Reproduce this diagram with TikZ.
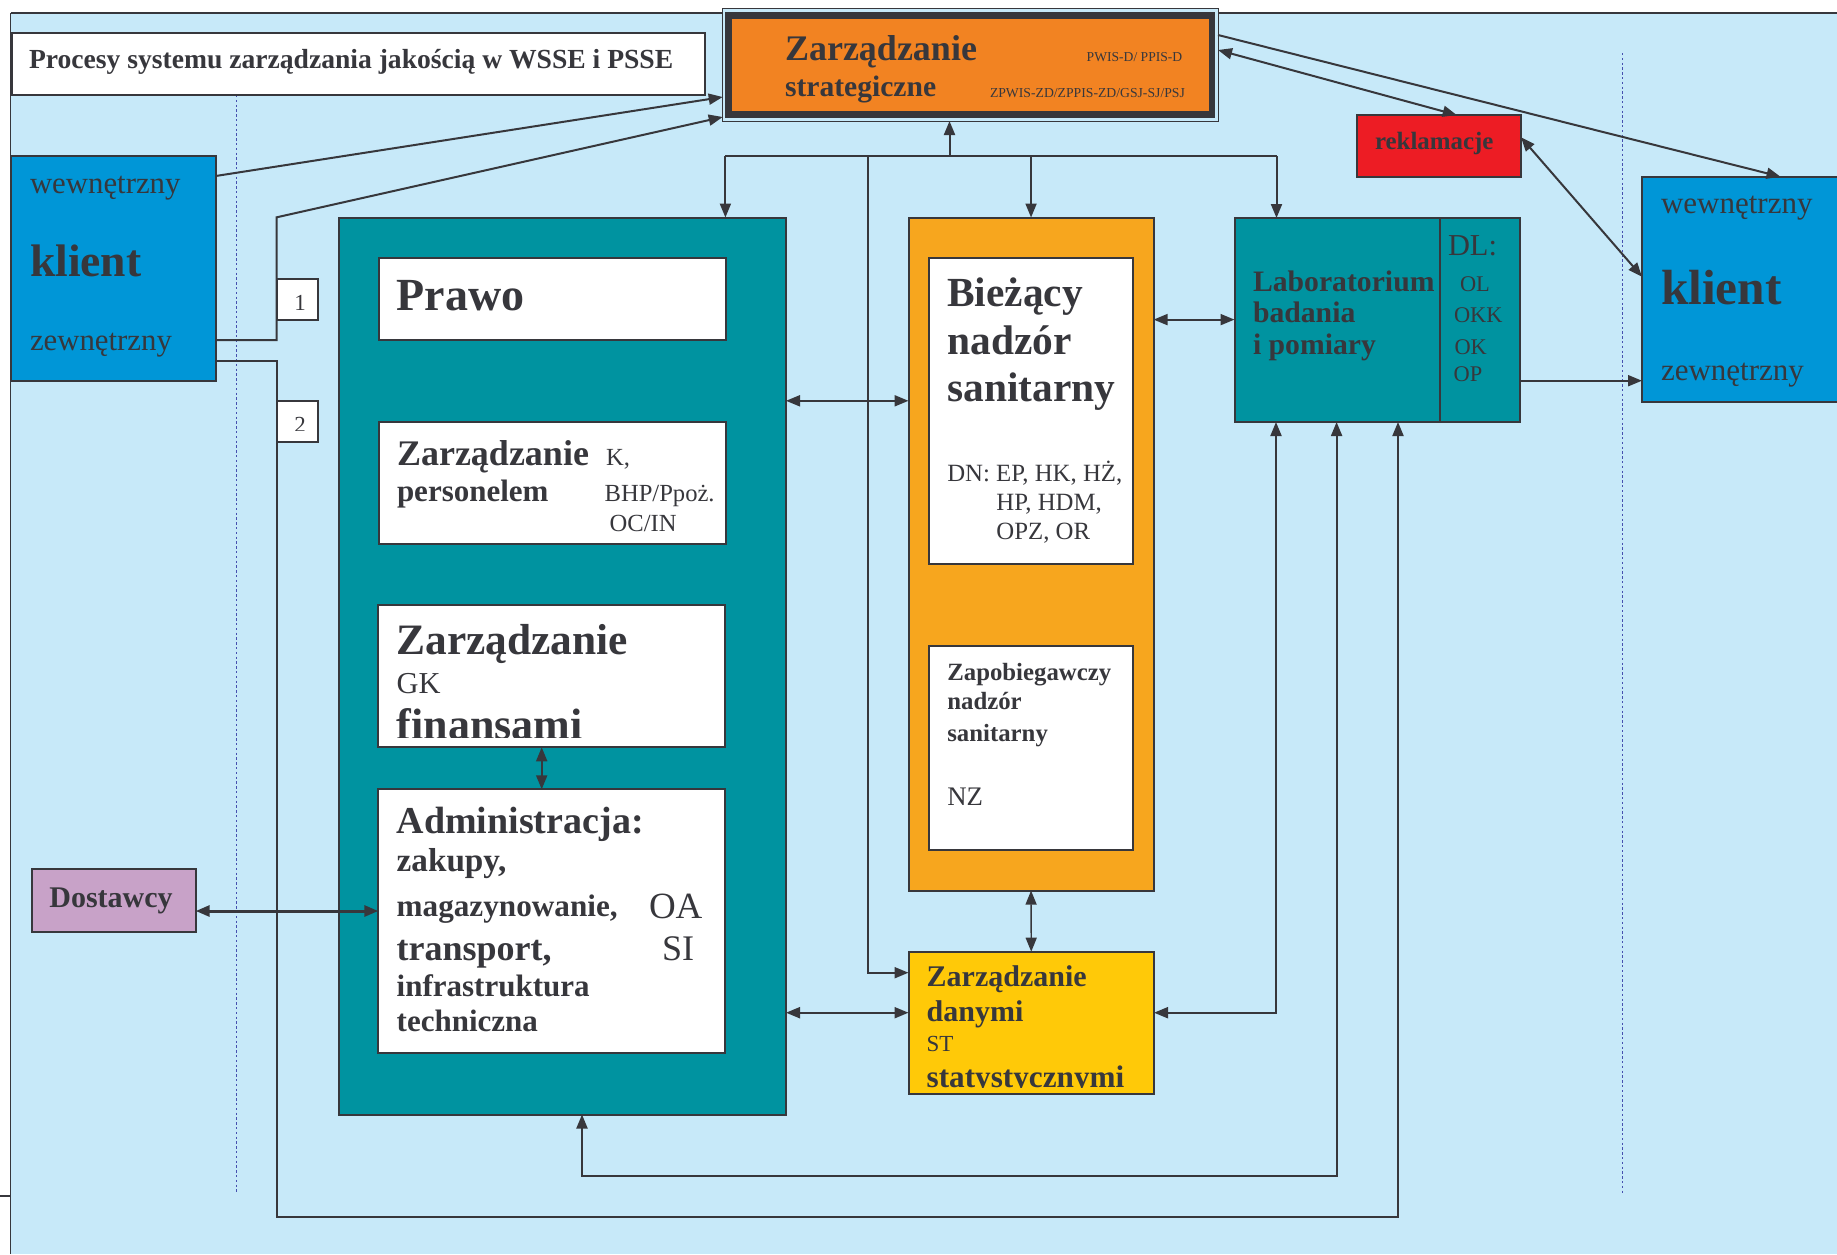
\documentclass[tikz,border=0pt]{standalone}
\usepackage{fontspec}
\setmainfont{Liberation Serif}
\usetikzlibrary{arrows.meta,fit}
\definecolor{bgblue}{RGB}{199,233,249}
\definecolor{dk}{RGB}{55,55,60}
\definecolor{kblue}{RGB}{0,150,215}
\definecolor{tealbox}{RGB}{0,147,160}
\definecolor{sorange}{RGB}{242,131,34}
\definecolor{borange}{RGB}{247,166,30}
\definecolor{dyellow}{RGB}{255,201,8}
\definecolor{rred}{RGB}{237,28,36}
\definecolor{lilac}{RGB}{200,162,200}
\definecolor{dotblue}{RGB}{70,80,175}
\newcommand\fsz[1]{\fontsize{#1}{#1}\selectfont}
\begin{document}
\begin{tikzpicture}[x=0.5pt,y=-0.5pt,
  ln/.style={draw=dk,line width=1pt},
  box/.style={draw=dk,line width=1pt,inner sep=0pt,outer sep=0pt},
  txt/.style={inner sep=0pt,outer sep=0pt,anchor=base west,text=dk},
  arr/.style={ln,-{Triangle[length=7pt,width=5.5pt]}},
  darr/.style={ln,{Triangle[length=7pt,width=5.5pt]}-{Triangle[length=7pt,width=5.5pt]}},
  guide/.style={draw=dotblue,line width=0.5pt,dash pattern=on 1.2pt off 1.2pt}]
\useasboundingbox (0,0) rectangle (1837,1254);

% backdrop
\fill[bgblue] (10.7,12.7) rectangle (1837,1254);
\draw[dk,line width=0.5pt] (10.7,1254) -- (10.7,12.7);
\draw[dk,line width=0.8pt] (10.7,12.7) -- (1837,12.7);
\draw[dk,line width=1pt] (0,1196) -- (10.7,1196);

% dotted guides
\draw[guide] (236.6,95) -- (236.6,1193);
\draw[guide] (1622,53) -- (1622,1195);

% boxes
\node[box,fill=white,fit={(11.7,33.3) (705,95)}] (title) {};
\node[draw=dk,line width=0.5pt,fill=bgblue,inner sep=0pt,outer sep=0pt,fit={(722.7,8.3) (1218,121)}] (stratf) {};
\node[draw=dk,line width=3.4pt,fill=sorange,inner sep=0pt,outer sep=0pt,fit={(728.3,15.3) (1212,114.3)}] (strat) {};
\node[box,fill=rred,fit={(1356.7,115) (1521,177.3)}] (rekl) {};
\node[box,fill=kblue,fit={(10.7,156) (215.7,380.7)}] (lk) {};
\node[box,fill=kblue,fit={(1642,176.7) (1850,401.7)}] (rk) {};
\node[box,fill=tealbox,fit={(338.5,217.5) (786,1114.5)}] (teal) {};
\node[box,fill=white,fit={(379,258) (725.6,340)}] (prawo) {};
\node[box,fill=white,fit={(379,421.7) (725.5,544)}] (pers) {};
\node[box,fill=white,fit={(378.3,605) (725,747.3)}] (fin) {};
\node[box,fill=white,fit={(378.3,789.3) (725,1053)}] (adm) {};
\node[box,fill=lilac,fit={(31.6,869.3) (195.7,931.7)}] (dost) {};
\node[box,fill=borange,fit={(908.5,217.5) (1153.6,890.6)}] (biez) {};
\node[box,fill=white,fit={(929,258) (1133,564.3)}] (biezw) {};
\node[box,fill=white,fit={(929,645.5) (1133,850)}] (zap) {};
\node[box,fill=dyellow,fit={(908.5,951.7) (1154,1094)}] (dane) {};
\node[box,fill=tealbox,fit={(1234.5,218) (1520,422)}] (lab) {};
\draw[ln] (lab.north -| 1439.5,0) -- (lab.south -| 1439.5,0);

% connectors from the client on the left
\draw[arr] (lk.east |- 0,176) -- (stratf.west |- 0,97);
\draw[arr] (lk.east |- 0,340) -- (276.7,340) -- (276.7,217.3) -- (stratf.west |- 0,117);
\draw[arr] (lk.east |- 0,360.7) -- (276.7,360.7) -- (276.7,1216.7) -- (1398,1216.7) -- (lab.south -| 1398,0);

% distribution bar under strategic management
\coordinate (hub) at (949.5,156);
\coordinate (barL) at (725.4,156);
\coordinate (barR) at (1276.5,156);
\coordinate (barD) at (868,156);
\draw[ln] (barL) -- (barR);
\draw[arr] (hub) -- (hub |- stratf.south);
\draw[arr] (barL) -- (teal.north -| barL);
\draw[arr] (biez.north |- barL) -- (biez.north);
\draw[arr] (barR) -- (lab.north -| barR);
\draw[arr] (barD) -- (868,972.7) -- (dane.west |- 0,972.7);

% links between process blocks
\draw[darr] (teal.east |- 0,400.8) -- (biez.west |- 0,400.8);
\draw[darr] (teal.east |- 0,1012.7) -- (dane.west |- 0,1012.7);
\draw[darr] (biez.east |- 0,319.6) -- (lab.west |- 0,319.6);
\draw[darr,line width=0.7pt] (biez.south) -- (dane.north);
\draw[darr] (fin.south -| 541.7,0) -- (adm.north -| 541.7,0);
\draw[darr,line width=1.5pt] (dost.east |- 0,911) -- (adm.west |- 0,911);
\draw[arr] (lab.east |- 0,380.7) -- (rk.west |- 0,380.7);
\draw[darr] (dane.east |- 0,1012.7) -- (1276,1012.7) -- (lab.south -| 1276,0);
\draw[darr] (teal.south -| 582,0) -- (582,1175.7) -- (1336.6,1175.7) -- (lab.south -| 1336.6,0);
\draw[arr] (stratf.east |- 0,35) -- (rk.north -| 1780.5,0);
\draw[darr] (stratf.east |- 0,50) -- (rekl.north -| 1456.7,0);
\draw[darr] (rekl.east |- 0,137.3) -- (rk.west |- 0,276.7);

% numbered tags
\node[box,fill=white,fit={(276.7,279) (318.3,320)}] (b1) {};
\node[box,fill=white,fit={(276.7,401) (318.3,442.3)}] (b2) {};
\node[txt,anchor=base,font=\fsz{11.5}] (tb1) at (300,310.7) {1};
\begin{scope}
  \clip (280,400) rectangle (316,430.5);
  \node[txt,anchor=base,font=\fsz{11.5}] (tb2) at (300,432.7) {2};
\end{scope}

% texts
\node[txt,font=\fsz{13.8}\bfseries] (tTitle) at (29,68) {Procesy systemu zarządzania jakością w WSSE i PSSE};

\node[txt,font=\fsz{18}\bfseries] (tS1) at (785,60) {Zarządzanie};
\node[txt,font=\fsz{14.8}\bfseries] (tS2) at (785,96.7) {strategiczne};
\node[txt,font=\fsz{6.8}] (tS3) at (1086.7,61.7) {PWIS-D/ PPIS-D};
\node[txt,font=\fsz{6.85}] (tS4) at (990,97.7) {ZPWIS-ZD/ZPPIS-ZD/GSJ-SJ/PSJ};

\node[txt,font=\fsz{12.45}\bfseries] (tR) at (1375,149.3) {reklamacje};

\node[txt,font=\fsz{15.4}] (tL1) at (30,193.3) {wewnętrzny};
\node[txt,font=\fsz{22.8}\bfseries] (tL2) at (30,276) {klient};
\node[txt,font=\fsz{15.4}] (tL3) at (30,350.7) {zewnętrzny};

\node[txt,font=\fsz{15.5}] (tK1) at (1661,213.3) {wewnętrzny};
\node[txt,font=\fsz{24.7}\bfseries] (tK2) at (1661,304) {klient};
\node[txt,font=\fsz{15.5}] (tK3) at (1661,380) {zewnętrzny};

\node[txt,font=\fsz{23}\bfseries] (tP) at (396.5,310) {Prawo};

\node[txt,font=\fsz{18}\bfseries] (tZ1) at (397,465) {Zarządzanie};
\node[txt,font=\fsz{15.5}\bfseries] (tZ2) at (397,501.7) {personelem};
\node[txt,font=\fsz{12.3}] (tZ3) at (606,465) {K,};
\node[txt,font=\fsz{12.3}] (tZ4) at (604.6,501.7) {BHP/Ppoż.};
\node[txt,font=\fsz{12.3}] (tZ5) at (609.7,531.7) {OC/IN};

\node[txt,font=\fsz{21.7}\bfseries] (tF1) at (396.7,654) {Zarządzanie};
\node[txt,font=\fsz{15.2}] (tF2) at (396.7,693.3) {GK};
\begin{scope}
  \clip (380,700) rectangle (724,737.5);
  \node[txt,font=\fsz{22}\bfseries] (tF3) at (396.7,739.5) {finansami};
\end{scope}

\node[txt,font=\fsz{19}\bfseries] (tA1) at (396.7,833.3) {Administracja:};
\node[txt,font=\fsz{16.6}\bfseries] (tA2) at (396.7,871.7) {zakupy,};
\node[txt,font=\fsz{15.6}\bfseries] (tA3) at (396.7,916.7) {magazynowanie,};
\node[txt,font=\fsz{18.5}] (tA4) at (649,918.3) {OA};
\node[txt,font=\fsz{18}\bfseries] (tA5) at (396.7,960) {transport,};
\node[txt,font=\fsz{18}] (tA6) at (662,960) {SI};
\node[txt,font=\fsz{15.5}\bfseries] (tA7) at (396.7,996.7) {infrastruktura};
\node[txt,font=\fsz{15.5}\bfseries] (tA8) at (396.7,1031.7) {techniczna};

\node[txt,anchor=base,font=\fsz{15}\bfseries] (tD) at (111,907.3) {Dostawcy};

\node[txt,font=\fsz{20.7}\bfseries] (tB1) at (947.3,306) {Bieżący};
\node[txt,font=\fsz{20.7}\bfseries] (tB2) at (947.3,354) {nadzór};
\node[txt,font=\fsz{20.7}\bfseries] (tB3) at (947.3,401) {sanitarny};
\node[txt,font=\fsz{12.4}] (tB4) at (947.3,481) {DN: EP, HK, HŻ,};
\node[txt,font=\fsz{12.4}] (tB5) at (996.4,510) {HP, HDM,};
\node[txt,font=\fsz{12.4}] (tB6) at (996.4,539) {OPZ, OR};

\node[txt,font=\fsz{12.4}\bfseries] (tN1) at (947.3,680) {Zapobiegawczy};
\node[txt,font=\fsz{12.4}\bfseries] (tN2) at (947.3,709) {nadzór};
\node[txt,font=\fsz{12.4}\bfseries] (tN3) at (947.3,741) {sanitarny};
\node[txt,font=\fsz{13.4}] (tN4) at (947.3,805) {NZ};

\node[txt,font=\fsz{15}\bfseries] (tM1) at (926.7,986.7) {Zarządzanie};
\node[txt,font=\fsz{15}\bfseries] (tM2) at (926.7,1021.7) {danymi};
\node[txt,font=\fsz{11.5}] (tM3) at (926.7,1051.7) {ST};
\begin{scope}
  \clip (910,1055) rectangle (1152,1087.3);
  \node[txt,font=\fsz{15.6}\bfseries] (tM4) at (926.7,1087.5) {statystycznymi};
\end{scope}

\node[txt,font=\fsz{14.85}\bfseries] (tLab1) at (1253,291.5) {Laboratorium};
\node[txt,font=\fsz{14.85}\bfseries] (tLab2) at (1253,322.8) {badania};
\node[txt,font=\fsz{14.85}\bfseries] (tLab3) at (1253,354) {i pomiary};
\node[txt,font=\fsz{15.2}] (tDL) at (1448,255.8) {DL:};
\node[txt,font=\fsz{11.2}] (tOL) at (1460,291.5) {OL};
\node[txt,font=\fsz{11.2}] (tOKK) at (1454,322.8) {OKK};
\node[txt,font=\fsz{11.2}] (tOK) at (1454.5,354) {OK};
\node[txt,font=\fsz{11.2}] (tOP) at (1453.6,381.7) {OP};
\end{tikzpicture}
\end{document}
